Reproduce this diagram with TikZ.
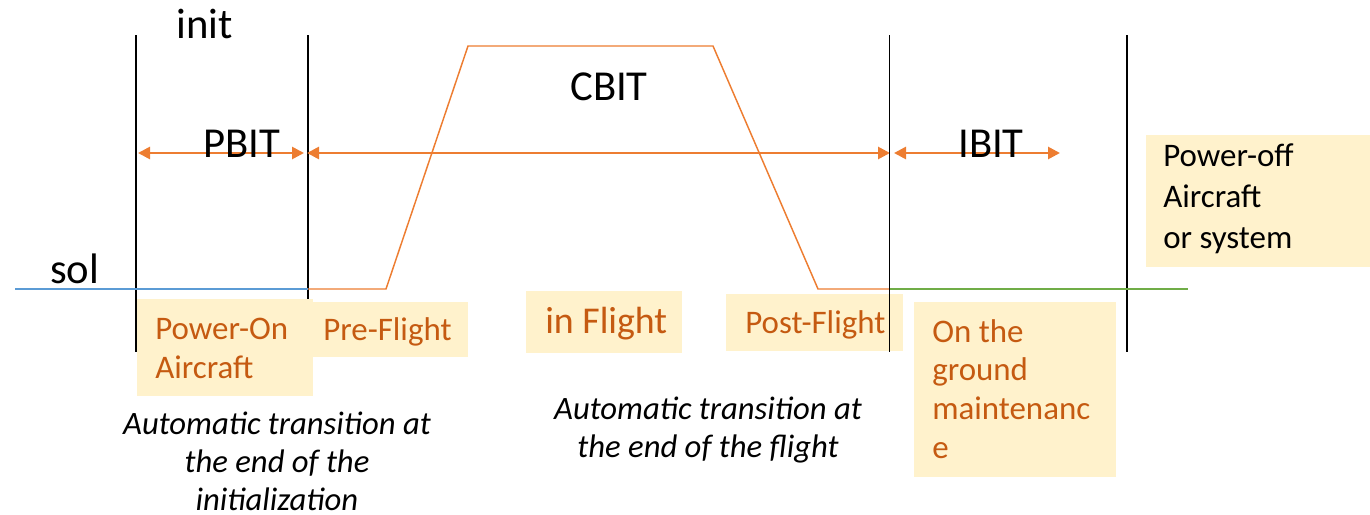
\documentclass[tikz,border=0pt]{standalone}
\usepackage{fontspec}
\setmainfont{Carlito}
\usetikzlibrary{arrows.meta}
\definecolor{accent}{HTML}{ED7D31}
\definecolor{labeltext}{HTML}{C55A11}
\definecolor{labelfill}{HTML}{FFF2CC}
\definecolor{solblue}{HTML}{5B9BD5}
\definecolor{solgreen}{HTML}{70AD47}
\tikzset{
  phase/.style={draw=black, line width=1.5pt},
  thinphase/.style={draw=black, line width=0.75pt},
  span/.style={draw=accent, line width=2pt, {Triangle[length=9pt,width=9pt]}-{Triangle[length=9pt,width=9pt]}},
  profile/.style={draw=accent, line width=1.1pt},
  boxfill/.style={fill=labelfill, draw=none},
  big/.style={font=\fontsize{32}{38}\selectfont, inner sep=0pt, anchor=base west},
  statelbl/.style={font=\fontsize{24.7}{29}\selectfont, text=labeltext, inner sep=0pt, anchor=base west, align=left},
  note/.style={font=\fontsize{24.5}{28.5}\selectfont\itshape, inner sep=0pt, align=center, anchor=base},
}
\begin{document}
\begin{tikzpicture}[x=0.75pt, y=-0.75pt]
\useasboundingbox (0,0) rectangle (1370,514);

% phase boundaries
\coordinate (p1t) at (136,35);  \coordinate (p1b) at (136,352);
\coordinate (p2t) at (308,35);  \coordinate (p2b) at (308,352);
\coordinate (p3t) at (889,35);  \coordinate (p3b) at (889,352);
\coordinate (p4t) at (1127,35); \coordinate (p4b) at (1127,352);
\draw[phase] (p1t) -- (p1b);
\draw[phase] (p2t) -- (p2b);
\draw[phase] (p4t) -- (p4b);

% ground level and the flight profile
\coordinate (g0) at (15,289);
\coordinate (g1) at (308,289);
\coordinate (r0) at (386,289);
\coordinate (r1) at (468,46);
\coordinate (r2) at (713,46);
\coordinate (r3) at (818,289);
\coordinate (g2) at (889,289);
\coordinate (g3) at (1188,289);
\draw[solblue, line width=1.5pt] (g0) -- (g1);
\draw[profile] (g1) -- (r0) -- (r1) -- (r2) -- (r3) -- (g2);
\draw[solgreen, line width=1.5pt] (g2) -- (g3);

% test spans
\coordinate (a1) at (138,153);  \coordinate (a2) at (304,153);
\coordinate (b1) at (307,153);  \coordinate (b2) at (890,153);
\coordinate (c1) at (894,153);  \coordinate (c2) at (1060,153);
\draw[span] (a1) -- (a2);
\draw[span] (b1) -- (b2);
\draw[span] (c1) -- (c2);

% big labels
\node[big] (init) at (176,38) {init};
\node[big] (cbit) at (570,100) {CBIT};
\node[big] (pbit) at (203,157) {PBIT};
\node[big] (ibit) at (958,157) {IBIT};
\node[big] (sol)  at (50,283) {sol};

% state boxes
\fill[boxfill] (137,299) rectangle (313,396);
\fill[boxfill] (313,302) rectangle (468,357);
\fill[boxfill] (526,291) rectangle (682,353);
\fill[boxfill] (726,294) rectangle (903,351);
\fill[boxfill] (914,302) rectangle (1116,477);
\fill[boxfill] (1146,135) rectangle (1370,267);

% multi-line labels are placed by the baseline of their last line
\node[statelbl] (pwron) at (155,378) {Power-On\\Aircraft};
\node[statelbl] (pre)   at (323,340) {Pre-Flight};
\node[statelbl, font=\fontsize{28.4}{32}\selectfont] (inflt) at (545,333) {in Flight};
\node[statelbl] (post)  at (745,333) {Post-Flight};
\node[statelbl] (grnd)  at (932,458) {On the\\ground\\maintenanc\\e};
\node[statelbl, text=black, font=\fontsize{24.7}{30.5}\selectfont] (pwroff) at (1163,248) {Power-off\\Aircraft\\or system};

% boundary drawn over the post-flight box
\draw[thinphase] (p3t) -- (p3b);

% transition notes
\node[note] (n1) at (277,510) {Automatic transition at\\the end of the\\initialization};
\node[note] (n2) at (708,457) {Automatic transition at\\the end of the flight};
\end{tikzpicture}
\end{document}
